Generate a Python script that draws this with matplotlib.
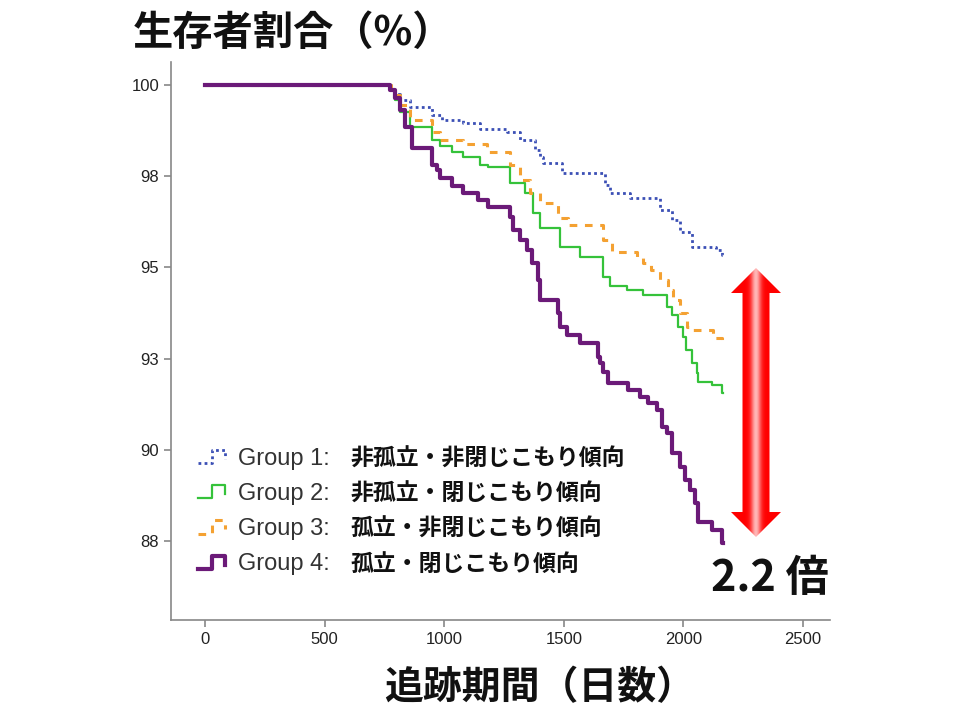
import matplotlib
matplotlib.use("Agg")
import matplotlib.pyplot as plt
import numpy as np
from matplotlib.lines import Line2D
from matplotlib.patches import Polygon
from matplotlib.legend_handler import HandlerLine2D

# survival curves (days, survival %), step after each time
g1_t = [0, 778, 794, 815, 857, 949, 991, 1079, 1150, 1262, 1317, 1380, 1400, 1413, 1492,
        1672, 1693, 1777, 1902, 1952, 1986, 2036, 2136, 2161, 2165]
g1_s = [100, 99.9, 99.75, 99.6, 99.40, 99.18, 99.04, 98.96, 98.79, 98.70, 98.49, 98.22, 98.03, 97.86, 97.59,
        97.26, 97.04, 96.90, 96.57, 96.30, 95.97, 95.56, 95.48, 95.34, 95.34]

g2_t = [0, 778, 794, 815, 857, 949, 983, 1033, 1079, 1150, 1183, 1275, 1338, 1371, 1400, 1484,
        1568, 1664, 1693, 1764, 1831, 1931, 1952, 1977, 1998, 2011, 2036, 2057, 2061, 2119, 2161, 2165]
g2_s = [100, 99.85, 99.59, 99.26, 98.85, 98.49, 98.33, 98.16, 98.03, 97.81, 97.75, 97.31, 97.04, 96.49, 96.08, 95.56,
        95.29, 94.74, 94.49, 94.38, 94.24, 93.91, 93.70, 93.37, 93.09, 92.74, 92.38, 92.11, 91.86, 91.78, 91.56, 91.56]

g3_t = [0, 778, 794, 815, 857, 949, 983, 1079, 1180, 1275, 1317, 1359, 1400, 1476, 1518, 1665, 1700,
        1807, 1832, 1866, 1902, 1936, 1957, 1986, 2015, 2028, 2124, 2161, 2165]
g3_s = [100, 99.9, 99.73, 99.45, 99.04, 98.71, 98.49, 98.38, 98.16, 97.81, 97.40, 97.04, 96.77, 96.35, 96.16, 95.75, 95.42,
        95.29, 95.12, 94.93, 94.66, 94.38, 94.11, 93.75, 93.37, 93.28, 93.07, 92.93, 92.93]

g4_t = [0, 774, 794, 815, 836, 865, 949, 970, 983, 1033, 1079, 1141, 1183, 1275, 1288, 1317, 1346,
        1367, 1392, 1400, 1476, 1484, 1513, 1568, 1643, 1651, 1664, 1685, 1768, 1819, 1852, 1890,
        1911, 1931, 1952, 1986, 2007, 2028, 2048, 2061, 2119, 2161, 2165]
g4_s = [100, 99.86, 99.64, 99.31, 98.85, 98.27, 97.81, 97.67, 97.45, 97.23, 97.04, 96.85, 96.66, 96.38, 96.03, 95.75, 95.48,
        95.12, 94.66, 94.11, 93.75, 93.37, 93.15, 92.93, 92.54, 92.38, 92.13, 91.83, 91.64, 91.45, 91.28, 91.09,
        90.63, 90.46, 89.91, 89.53, 89.17, 88.90, 88.54, 88.02, 87.80, 87.45, 87.45]

group_labels = ["Group 1:", "Group 2:", "Group 3:", "Group 4:"]
group_jp = ["非孤立・非閉じこもり傾向", "非孤立・閉じこもり傾向",
            "孤立・非閉じこもり傾向", "孤立・閉じこもり傾向"]

x_ticks = [0, 500, 1000, 1500, 2000, 2500]
y_ticks = [100, 97.5, 95, 92.5, 90, 87.5]
y_ticklabels = ["100", "98", "95", "93", "90", "88"]

JP = ["Noto Sans CJK JP", "DejaVu Sans"]
NUM = ["Liberation Sans", "DejaVu Sans"]


class StepHandler(HandlerLine2D):
    # little "_|‾|" step icon like in the original legend
    def create_artists(self, legend, orig_handle, xdescent, ydescent,
                       width, height, fontsize, trans):
        xs = np.array([0, 0.45, 0.45, 0.9, 0.9]) * width - xdescent
        ys = np.array([0.1, 0.1, 0.9, 0.9, 0.35]) * height - ydescent
        line = Line2D(xs, ys)
        self.update_prop(line, orig_handle, legend)
        line.set_transform(trans)
        return [line]


fig = plt.figure(figsize=(9.6, 7.2), dpi=100)
ax = fig.add_axes([171/960, 1-620/720, (830-171)/960, (620-62)/720])

h1, = ax.step(g1_t, g1_s, where="post", color="#3b4fb5", lw=2.0, ls=(0, (1, 1.2)))
h2, = ax.step(g2_t, g2_s, where="post", color="#35c23a", lw=1.6)
h3, = ax.step(g3_t, g3_s, where="post", color="#f4a132", lw=2.2, ls=(0, (2.5, 2.5)))
h4, = ax.step(g4_t, g4_s, where="post", color="#6b1a78", lw=3)

ax.set_xlim(-142, 2613)
ax.set_ylim(85.33, 100.63)
ax.set_xticks(x_ticks)
ax.set_xticklabels([str(v) for v in x_ticks], fontsize=12, family=NUM, color="#222")
ax.set_yticks(y_ticks)
ax.set_yticklabels(y_ticklabels, fontsize=12, family=NUM, color="#222")
for s in ["top", "right"]:
    ax.spines[s].set_visible(False)
for s in ["left", "bottom"]:
    ax.spines[s].set_color("#888888")
    ax.spines[s].set_linewidth(1.2)
ax.tick_params(colors="#888888", length=5, width=1.2, labelcolor="#222")

leg = ax.legend([h1, h2, h3, h4], group_labels, handler_map={Line2D: StepHandler()},
                loc="upper left", bbox_to_anchor=(186/960, 1-436/720),
                bbox_transform=fig.transFigure, frameon=False,
                prop={"family": NUM, "size": 17}, handlelength=1.3,
                handletextpad=0.4, labelspacing=0.56, borderpad=0)
for t in leg.get_texts():
    t.set_color("#333333")

fig.canvas.draw()
for t, jp in zip(leg.get_texts(), group_jp):
    bb = t.get_window_extent()
    yc = (bb.y0 + bb.y1) / 2
    fig.text(350/960, yc/fig.bbox.height, jp, ha="left", va="center",
             fontsize=16.5, fontweight="bold", family=JP, color="#111")

fig.text(133/960, 1-33/720, "生存者割合（%）", ha="left", va="center",
         fontsize=29, fontweight="bold", family=JP, color="#111")
fig.text(540/960, 1-688/720, "追跡期間（日数）", ha="center", va="center",
         fontsize=28, fontweight="bold", family=JP, color="#111")
fig.text(770/960, 1-578/720, "2.2 倍", ha="center", va="center",
         fontsize=31, fontweight="bold", family=JP, color="#111")

# red double arrow with a light stripe down the middle
ax_arr = fig.add_axes([731/960, 1-537/720, 50/960, 269/720])
ax_arr.set_xlim(0, 1)
ax_arr.set_ylim(0, 1)
ax_arr.axis("off")
hl = 25/269
pts = [(0.5, 1), (0, 1-hl), (0.23, 1-hl), (0.23, hl), (0, hl), (0.5, 0),
       (1, hl), (0.77, hl), (0.77, 1-hl), (1, 1-hl)]
arrow = Polygon(pts, closed=True, facecolor="none", edgecolor="none")
ax_arr.add_patch(arrow)
xx = np.linspace(0, 1, 200)
light = 0.72 * np.exp(-((xx - 0.5) / 0.1) ** 2)
grad = np.ones((1, 200, 3))
grad[0, :, 1] = light
grad[0, :, 2] = light
im = ax_arr.imshow(grad, extent=[0, 1, 0, 1], aspect="auto", interpolation="bilinear")
im.set_clip_path(arrow)

fig.savefig("out.png", dpi=100)
